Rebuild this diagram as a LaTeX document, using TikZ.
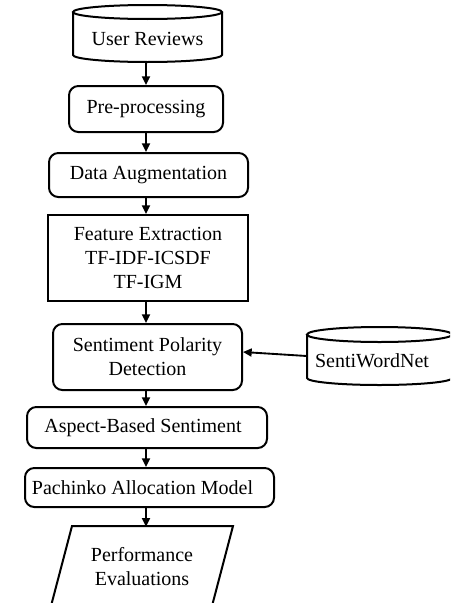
\documentclass[tikz,border=0pt]{standalone}
\usepackage{fontspec}
\setmainfont{Liberation Serif}
\usetikzlibrary{arrows.meta,calc}
% one pixel of the layout grid
\newdimen\pxu \pxu=0.75pt
\begin{document}
\begin{tikzpicture}[x=0.75pt,y=-0.75pt,
  every node/.style={font=\fontsize{15}{18}\selectfont, align=center, inner sep=0pt},
  box/.style={draw, line width=1.5pt, rectangle},
  rbox/.style={box, rounded corners=7pt},
  ghost/.style={rectangle},
  outline/.style={line width=1.5pt},
  arr/.style={line width=1.4pt, -{Triangle[length=6.5pt,width=6pt]}}]
\useasboundingbox (0,0) rectangle (450,603);
\clip (0,0) rectangle (450,603);

% column along which the vertical arrows run
\coordinate (colx) at (146,0);

% database: user reviews
\node[ghost, minimum width=149\pxu, minimum height=57\pxu] (ur) at (147.5,33.5) {};
\node at (147.5,39) {User Reviews};
\draw[outline] (147.5,12) ellipse [x radius=74.5, y radius=7];
\draw[outline] (73,12) -- (73,55) arc[start angle=180, end angle=0, x radius=74.5, y radius=7] -- (222,12);

% processing steps
\node[rbox, minimum width=154\pxu, minimum height=46\pxu] (pre) at (146,109) {Pre-processing};
\node[rbox, minimum width=199\pxu, minimum height=44\pxu] (da) at (148.5,175) {Data Augmentation};
\node[box, minimum width=200\pxu, minimum height=86\pxu] (fe) at (148,258) {Feature Extraction\\TF-IDF-ICSDF\\TF-IGM};
\node[rbox, minimum width=189\pxu, minimum height=66\pxu] (sp) at (147.5,357) {Sentiment Polarity\\Detection};
\node[rbox, minimum width=240\pxu, minimum height=41\pxu] (ab) at (147,427.5) {\hspace*{-8\pxu}Aspect-Based Sentiment};
\node[rbox, minimum width=249\pxu, minimum height=39\pxu] (pam) at (149.5,487.5) {\hspace*{-14\pxu}Pachinko Allocation Model};

% output: performance evaluations
\node[ghost, minimum width=160\pxu, minimum height=80\pxu] (pe) at (142,567) {Performance\\Evaluations};
\draw[outline] (72,526) -- (233,526) -- (212,606) -- (51,606) -- cycle;

% database: SentiWordNet
\node[ghost, minimum width=145\pxu, minimum height=58\pxu] (swn) at (379.5,356) {};
\node at (372,361) {SentiWordNet};
\draw[outline] (379.5,334.5) ellipse [x radius=72.5, y radius=7.5];
\draw[outline] (307,334.5) -- (307,378) arc[start angle=180, end angle=0, x radius=72.5, y radius=7] -- (452,334.5);

% connectors
\draw[arr] (ur.south -| colx) -- (pre.north -| colx);
\draw[arr] (pre.south -| colx) -- (da.north -| colx);
\draw[arr] (da.south -| colx) -- (fe.north -| colx);
\draw[arr] (fe.south -| colx) -- (sp.north -| colx);
\draw[arr] (sp.south -| colx) -- (ab.north -| colx);
\draw[arr] (ab.south -| colx) -- (pam.north -| colx);
\draw[arr] (pam.south -| colx) -- (pe.north -| colx);
\draw[arr] (swn.west) -- (sp.3);
\end{tikzpicture}
\end{document}
